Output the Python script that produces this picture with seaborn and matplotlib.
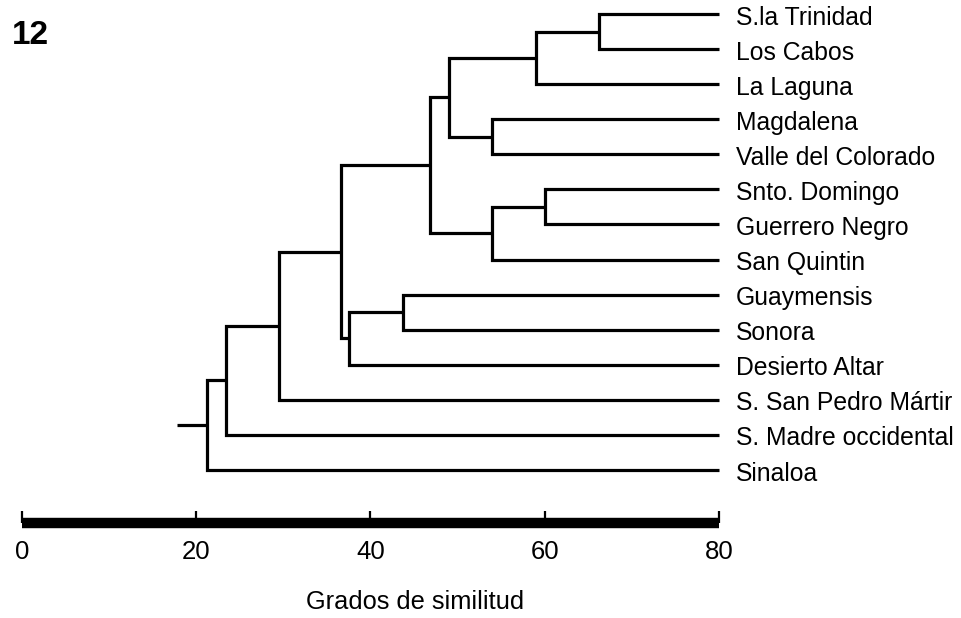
import numpy as np
import pandas as pd
import matplotlib
matplotlib.use("Agg")
import matplotlib.pyplot as plt
import seaborn as sns

# ---------------- data ----------------
leaves = ["S.la Trinidad", "Los Cabos", "La Laguna", "Magdalena", "Valle del Colorado",
          "Snto. Domingo", "Guerrero Negro", "San Quintin", "Guaymensis", "Sonora",
          "Desierto Altar", "S. San Pedro Mártir", "S. Madre occidental", "Sinaloa"]
# merges: ids < 14 are leaves, id 14+k is the cluster built by merge k
merge_a = [0, 14, 3, 15, 5, 18, 17, 8, 21, 20, 23, 24, 25]
merge_b = [1, 2, 4, 16, 6, 7, 19, 9, 10, 22, 11, 12, 13]
merge_sim = [66.2, 59.0, 54.0, 49.0, 60.0, 54.0, 46.8, 43.7, 37.6, 36.6, 29.5, 23.4, 21.3]
root_sim = 17.8
scale_max = 80
scale_ticks = [0, 20, 40, 60, 80]
xlabel = "Grados de similitud"
panel = "12"

# ---------------- layout of the tree ----------------
n = len(leaves)
pos_x = {i: scale_max for i in range(n)}
pos_y = {i: float(i) for i in range(n)}
rows = []
for k, (a, b, s) in enumerate(zip(merge_a, merge_b, merge_sim)):
    nid = n + k
    pts = [(pos_x[a], pos_y[a]), (s, pos_y[a]), (s, pos_y[b]), (pos_x[b], pos_y[b])]
    for j, (px, py) in enumerate(pts):
        rows.append({"seg": k, "ord": j, "x": px, "y": py})
    pos_x[nid] = s
    pos_y[nid] = (pos_y[a] + pos_y[b]) / 2
root = n + len(merge_sim) - 1
rows.append({"seg": len(merge_sim), "ord": 0, "x": root_sim, "y": pos_y[root]})
rows.append({"seg": len(merge_sim), "ord": 1, "x": pos_x[root], "y": pos_y[root]})
df = pd.DataFrame(rows)

# ---------------- figure ----------------
sns.set_theme(style="white")
plt.rcParams["font.family"] = ["Liberation Sans", "DejaVu Sans"]
plt.rcParams["text.color"] = "black"
plt.rcParams["xtick.color"] = "black"
plt.rcParams["xtick.labelcolor"] = "black"

W, H = 961, 618
fig = plt.figure(figsize=(W / 100, H / 100), dpi=100)
fig.patch.set_facecolor("white")

x0_px, x80_px = 21.7, 719.0
ppu = (x80_px - x0_px) / scale_max
y0_px, ystep = 14.0, 35.08

ax = fig.add_axes([0, 0, 1, 1])
ax.set_xlim(-x0_px / ppu, (W - x0_px) / ppu)
ax.set_ylim((H - y0_px) / ystep, -y0_px / ystep)
ax.patch.set_alpha(0)

sns.lineplot(data=df, x="x", y="y", units="seg", estimator=None, sort=False,
             color="black", lw=2.3, ax=ax, legend=False,
             solid_joinstyle="miter", solid_capstyle="butt")
ax.axis("off")

for i, name in enumerate(leaves):
    ax.text(scale_max + 1.9, i + 0.1, name, ha="left", va="center",
            fontsize=17.8, color="black")

# ---------------- scale bar ----------------
bar_px = 523
ax2 = fig.add_axes([x0_px / W, (H - bar_px) / H, (x80_px - x0_px) / W, 0.05])
ax2.patch.set_alpha(0)
ax2.set_xlim(0, scale_max)
ax2.set_ylim(0, 1)
for side in ["left", "right", "top"]:
    ax2.spines[side].set_visible(False)
ax2.spines["bottom"].set_linewidth(7.5)
ax2.spines["bottom"].set_color("black")
ax2.spines["bottom"].set_capstyle("butt")
ax2.set_yticks([])
ax2.set_xticks(scale_ticks)
ax2.set_xticklabels([str(t) for t in scale_ticks])
ax2.set_xticks([scale_ticks[0], scale_ticks[-1]], minor=True)
ax2.tick_params(axis="x", which="major", direction="in", length=8.5, width=1.6,
                color="black", labelcolor="black", labelsize=18.5, pad=12, bottom=True)
ax2.tick_params(axis="x", which="minor", direction="inout", length=12.5, width=2.4,
                color="black", bottom=True)

fig.text(415 / W, 1 - 602 / H, xlabel, ha="center", va="center", fontsize=18.3,
         color="black")
fig.text(12 / W, 1 - 35 / H, panel, ha="left", va="center", fontsize=24,
         fontweight="bold", color="black")

fig.savefig("out.png", dpi=100, facecolor="white")
